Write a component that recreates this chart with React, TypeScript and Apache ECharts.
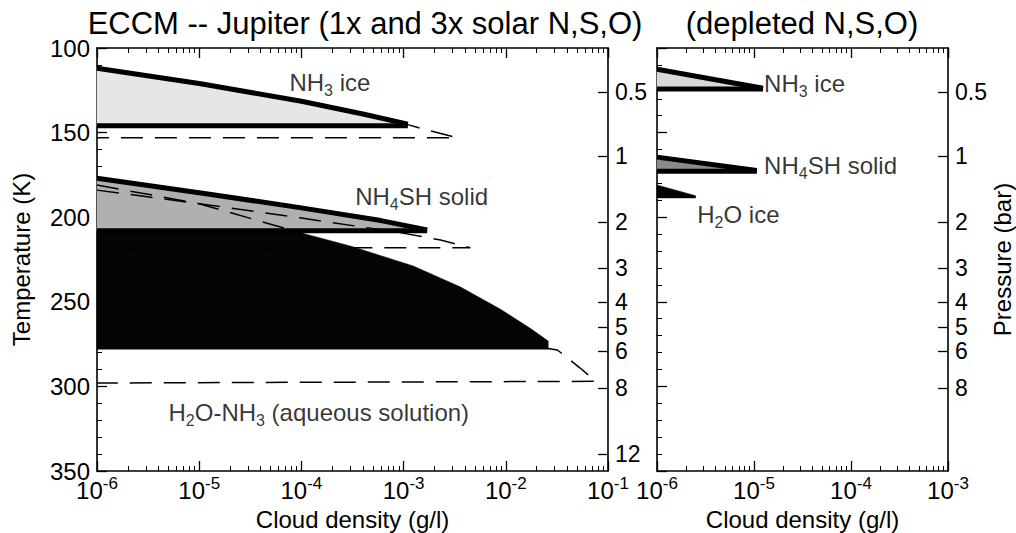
import React, { useEffect, useRef } from "react";
import * as echarts from "echarts";

const FONT = "'Liberation Sans', Arial, Helvetica, sans-serif";

// ---- axes ----
const leftDensityMin = 1e-6;
const leftDensityMax = 1e-1;
const rightDensityMin = 1e-6;
const rightDensityMax = 1e-3;
const tempMin = 100;
const tempMax = 350;
const tempInterval = 50;
const logMinorSteps = [2, 3, 4, 5, 6, 7, 8, 9];

// pressure tick labels (bar) and the temperature level each one sits at
const pressureTicks = ["0.5", "1", "2", "3", "4", "5", "6", "8", "12"];
const pressureTickTemps = [126, 164, 203, 230, 250, 265, 279, 301, 340];
const pressureTicksDepleted = ["0.5", "1", "2", "3", "4", "5", "6", "8"];

// ---- left panel: 1x solar (filled) ----
const nh3SolarDensity = [1e-6, 1e-5, 1e-4, 4e-4, 1.1e-3];
const nh3SolarTopT = [112, 121, 131.5, 139, 145];
const nh3SolarBaseT = 146;

const nh4shSolarDensity = [1e-6, 1e-5, 1e-4, 6e-4, 1.7e-3];
const nh4shSolarTopT = [177, 185.5, 194.5, 202, 207.5];
const nh4shSolarBaseT = 208;

const h2oSolarDensity = [1e-6, 8.3e-5, 3.0e-4, 1.24e-3, 3.6e-3, 8.8e-3, 1.73e-2, 2.6e-2];
const h2oSolarEdgeT = [208, 208, 217, 228.8, 241.2, 254.3, 265.6, 273.2];
const h2oSolarBaseT = 278;

// ---- left panel: 3x solar (dashed) ----
const nh3X3Density = [1e-6, 1e-5, 1e-4, 4e-4, 1.1e-3, 1.7e-3, 3.3e-3, 1e-6];
const nh3X3T = [112.5, 121.5, 132, 139.5, 145.3, 148.5, 153, 153];

const nh4shX3Density = [1e-6, 1e-5, 1e-4, 9e-4, 2.3e-3, 4.5e-3, 1e-6];
const nh4shX3T = [184, 192, 200.5, 209, 213.5, 218, 218];

const h2oX3Density = [1e-6, 1e-5, 7.8e-5, 2.3e-4, 1.45e-3, 8.8e-3, 2.4e-2, 3.2e-2, 5.3e-2, 7.6e-2, 1e-6];
const h2oX3T = [181, 192, 207.5, 218, 243, 266.7, 277.3, 278.5, 289, 297, 298];

// ---- right panel: depleted N,S,O ----
const nh3DepDensity = [1e-6, 1.24e-5];
const nh3DepTopT = [112.6, 123.8];
const nh3DepBaseT = 124.2;

const nh4shDepDensity = [1e-6, 1.07e-5];
const nh4shDepTopT = [164.5, 172.4];
const nh4shDepBaseT = 172.8;

const h2oDepDensity = [1e-6, 2.5e-6];
const h2oDepTopT = [181, 187.3];
const h2oDepBaseT = 188.6;

// ---- annotations (density, temperature) ----
const leftLabelText = ["{b|NH}{s|3}{b| ice}", "{b|NH}{s|4}{b|SH solid}", "{b|H}{s|2}{b|O-NH}{s|3}{b| (aqueous solution)}"];
const leftLabelDensity = [1.9e-4, 1.5e-3, 1.48e-4];
const leftLabelTemp = [120.5, 187.5, 315.5];
const rightLabelText = ["{b|NH}{s|3}{b| ice}", "{b|NH}{s|4}{b|SH solid}", "{b|H}{s|2}{b|O ice}"];
const rightLabelDensity = [1.27e-5, 1.27e-5, 2.6e-6];
const rightLabelTemp = [121, 169.5, 198.5];

const zip = (xs: number[], ys: number[]) => xs.map((x, i) => [x, ys[i]]);

function logMinorTicks(min: number, max: number) {
  const out: number[] = [];
  const e0 = Math.round(Math.log10(min));
  const e1 = Math.round(Math.log10(max));
  for (let e = e0; e < e1; e++) for (const m of logMinorSteps) out.push(m * Math.pow(10, e));
  return out;
}

function cloudPolygon(xs: number[], top: number[], base: number) {
  const pts = zip(xs, top);
  pts.push([xs[xs.length - 1], base]);
  pts.push([xs[0], base]);
  return pts;
}

function polygonSeries(grid: number, pts: number[][], fill: string, z: number) {
  return {
    type: "custom",
    xAxisIndex: grid * 2,
    yAxisIndex: grid * 2,
    z,
    silent: true,
    data: pts,
    renderItem: (params: any, api: any) => {
      if (params.dataIndex !== 0) return { type: "group", children: [] };
      return {
        type: "polygon",
        shape: { points: pts.map((p) => api.coord(p)) },
        style: { fill, stroke: fill, lineWidth: 0.5 },
      };
    },
  };
}

function lineSeries(grid: number, pts: number[][], width: number, dashed: boolean, z: number) {
  return {
    type: "line",
    xAxisIndex: grid * 2,
    yAxisIndex: grid * 2,
    z,
    silent: true,
    symbol: "none",
    data: pts,
    lineStyle: { color: "#000", width, type: dashed ? [22, 12] : "solid", cap: "butt" },
  };
}

const richLabel = {
  b: { fontSize: 24, fontFamily: FONT, color: "#000", lineHeight: 32 },
  s: { fontSize: 16, fontFamily: FONT, color: "#000", lineHeight: 16, verticalAlign: "bottom" },
};

function labelSeries(grid: number, texts: string[], xs: number[], ts: number[], position: string) {
  return {
    type: "scatter",
    xAxisIndex: grid * 2,
    yAxisIndex: grid * 2,
    z: 10,
    silent: true,
    symbolSize: 0,
    data: xs.map((x, i) => ({
      value: [x, ts[i]],
      label: { show: true, formatter: texts[i], position, distance: 0, rich: richLabel },
    })),
  };
}

const axisLine = { show: true, onZero: false, lineStyle: { color: "#000", width: 1.6 } };
const tickStyle = { color: "#000", width: 1.3 };

function densityAxis(grid: number, min: number, max: number, position: string, labels: boolean) {
  return {
    type: "log",
    logBase: 10,
    gridIndex: grid,
    min,
    max,
    position,
    axisLine,
    splitLine: { show: false },
    axisTick: { show: true, inside: true, length: 10, lineStyle: tickStyle },
    minorTick: { show: false },
    axisLabel: labels
      ? {
          show: true,
          margin: 4,
          showMinLabel: true,
          showMaxLabel: true,
          hideOverlap: false,
          formatter: (v: number) => "{b|10}{sup|" + Math.round(Math.log10(v)) + "}",
          rich: {
            b: { fontSize: 24, fontFamily: FONT, color: "#000", lineHeight: 30 },
            sup: { fontSize: 17, fontFamily: FONT, color: "#000", lineHeight: 17, verticalAlign: "top" },
          },
        }
      : { show: false },
    name: labels ? "Cloud density (g/l)" : "",
    nameLocation: "middle",
    nameGap: 36,
    nameTextStyle: { fontSize: 24, fontFamily: FONT, color: "#000" },
  };
}

// extra axes that only carry the 2..9 minor ticks of each decade
function densityMinorAxis(grid: number, min: number, max: number, position: string) {
  return {
    type: "log",
    logBase: 10,
    gridIndex: grid,
    min,
    max,
    position,
    axisLine: { show: false },
    splitLine: { show: false },
    axisLabel: { show: false },
    axisTick: { show: true, inside: true, length: 5, lineStyle: { color: "#000", width: 1 }, customValues: logMinorTicks(min, max) },
    minorTick: { show: false },
  };
}

function tempAxis(grid: number, labels: boolean) {
  return {
    type: "value",
    gridIndex: grid,
    min: tempMin,
    max: tempMax,
    interval: tempInterval,
    inverse: true,
    position: "left",
    axisLine,
    splitLine: { show: false },
    axisTick: { show: true, inside: true, length: 10, lineStyle: tickStyle },
    minorTick: { show: true, splitNumber: 5, length: 5, lineStyle: { color: "#000", width: 1 } },
    axisLabel: labels
      ? { show: true, margin: 7, fontSize: 24, lineHeight: 22, fontFamily: FONT, color: "#000" }
      : { show: false },
    name: labels ? "Temperature (K)" : "",
    nameLocation: "middle",
    nameRotate: 90,
    nameGap: 64,
    nameTextStyle: { fontSize: 24, fontFamily: FONT, color: "#000" },
  };
}

function pressureAxis(grid: number, names: string[], title: string) {
  const temps = pressureTickTemps.slice(0, names.length);
  return {
    type: "value",
    gridIndex: grid,
    min: tempMin,
    max: tempMax,
    inverse: true,
    position: "right",
    axisLine,
    splitLine: { show: false },
    axisTick: { show: true, inside: true, length: 10, lineStyle: tickStyle, customValues: temps },
    axisLabel: {
      show: true,
      margin: 7,
      fontSize: 23,
      lineHeight: 20,
      fontFamily: FONT,
      color: "#000",
      customValues: temps,
      formatter: (v: number) => {
        const i = temps.indexOf(v);
        return i >= 0 ? names[i] : "";
      },
    },
    name: title,
    nameLocation: "middle",
    nameRotate: 90,
    nameGap: 36,
    nameTextStyle: { fontSize: 24, fontFamily: FONT, color: "#000" },
  };
}

export default function App() {
  const ref = useRef<HTMLDivElement>(null);
  useEffect(() => {
    if (!ref.current) return;
    const chart = echarts.init(ref.current, undefined, { renderer: "svg" });
    const option: any = {
      animation: false,
      backgroundColor: "#fff",
      graphic: [
        {
          type: "text",
          x: 365,
          y: 23,
          style: { text: "ECCM -- Jupiter (1x and 3x solar N,S,O)", fontSize: 31, fontFamily: FONT, fill: "#000", align: "center", verticalAlign: "middle" },
        },
        {
          type: "text",
          x: 802,
          y: 23,
          style: { text: "(depleted N,S,O)", fontSize: 31, fontFamily: FONT, fill: "#000", align: "center", verticalAlign: "middle" },
        },
      ],
      grid: [
        { left: 97, right: 408, top: 48, bottom: 62, containLabel: false, outerBoundsMode: "none" },
        { left: 657, right: 68, top: 48, bottom: 62, containLabel: false, outerBoundsMode: "none" },
      ],
      xAxis: [
        densityAxis(0, leftDensityMin, leftDensityMax, "bottom", true),
        densityAxis(0, leftDensityMin, leftDensityMax, "top", false),
        densityAxis(1, rightDensityMin, rightDensityMax, "bottom", true),
        densityAxis(1, rightDensityMin, rightDensityMax, "top", false),
        densityMinorAxis(0, leftDensityMin, leftDensityMax, "bottom"),
        densityMinorAxis(0, leftDensityMin, leftDensityMax, "top"),
        densityMinorAxis(1, rightDensityMin, rightDensityMax, "bottom"),
        densityMinorAxis(1, rightDensityMin, rightDensityMax, "top"),
      ],
      yAxis: [
        tempAxis(0, true),
        pressureAxis(0, pressureTicks, ""),
        tempAxis(1, false),
        pressureAxis(1, pressureTicksDepleted, "Pressure (bar)"),
      ],
      series: [
        // filled 1x solar clouds
        polygonSeries(0, cloudPolygon(h2oSolarDensity, h2oSolarEdgeT, h2oSolarBaseT), "#050505", 2),
        polygonSeries(0, cloudPolygon(nh4shSolarDensity, nh4shSolarTopT, nh4shSolarBaseT), "#b0b0b0", 2),
        polygonSeries(0, cloudPolygon(nh3SolarDensity, nh3SolarTopT, nh3SolarBaseT), "#e6e6e6", 2),
        // 3x solar dashed profiles
        lineSeries(0, zip(nh3X3Density, nh3X3T), 1.5, true, 3),
        lineSeries(0, zip(nh4shX3Density, nh4shX3T), 1.5, true, 3),
        lineSeries(0, zip(h2oX3Density, h2oX3T), 1.5, true, 3),
        // thick outlines of 1x clouds
        lineSeries(0, zip(nh3SolarDensity, nh3SolarTopT), 5, false, 4),
        lineSeries(0, [[nh3SolarDensity[0], nh3SolarBaseT], [nh3SolarDensity[nh3SolarDensity.length - 1], nh3SolarBaseT]], 5, false, 4),
        lineSeries(0, zip(nh4shSolarDensity, nh4shSolarTopT), 5, false, 4),
        lineSeries(0, [[nh4shSolarDensity[0], nh4shSolarBaseT], [nh4shSolarDensity[nh4shSolarDensity.length - 1], nh4shSolarBaseT]], 5, false, 4),
        // depleted panel
        polygonSeries(1, cloudPolygon(nh3DepDensity, nh3DepTopT, nh3DepBaseT), "#d8d8d8", 2),
        polygonSeries(1, cloudPolygon(nh4shDepDensity, nh4shDepTopT, nh4shDepBaseT), "#8a8a8a", 2),
        polygonSeries(1, cloudPolygon(h2oDepDensity, h2oDepTopT, h2oDepBaseT), "#050505", 2),
        lineSeries(1, zip(nh3DepDensity, nh3DepTopT), 5, false, 4),
        lineSeries(1, [[nh3DepDensity[0], nh3DepBaseT], [nh3DepDensity[1], nh3DepBaseT]], 5, false, 4),
        lineSeries(1, zip(nh4shDepDensity, nh4shDepTopT), 5, false, 4),
        lineSeries(1, [[nh4shDepDensity[0], nh4shDepBaseT], [nh4shDepDensity[1], nh4shDepBaseT]], 5, false, 4),
        // labels
        labelSeries(0, leftLabelText, leftLabelDensity, leftLabelTemp, "inside"),
        labelSeries(1, rightLabelText, rightLabelDensity, rightLabelTemp, "right"),
      ],
    };
    chart.setOption(option);
    return () => chart.dispose();
  }, []);
  return <div ref={ref} style={{ position: "absolute", left: 0, top: 0, width: 1016, height: 533 }} />;
}
